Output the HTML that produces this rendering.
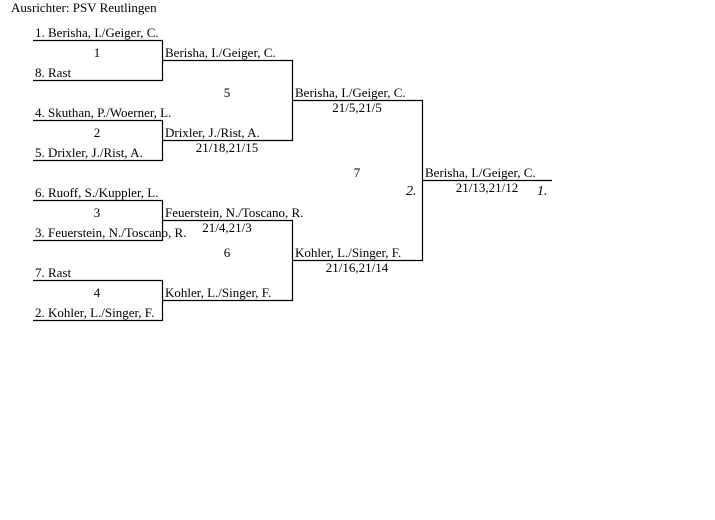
<!DOCTYPE html>
<html><head><meta charset="utf-8"><style>
html,body{margin:0;padding:0;background:#fff;width:715px;height:520px;overflow:hidden}
svg{display:block}
text{font-family:"Liberation Serif",serif;font-size:13px;fill:#000}
.i{font-style:italic;font-size:14px}
</style></head><body>
<svg width="715" height="520" xmlns="http://www.w3.org/2000/svg">
<g stroke="#000" stroke-width="1.2" fill="none">
<polyline points="33,40.5 162.5,40.5 162.5,80.5 33,80.5"/>
<polyline points="33,120.5 162.5,120.5 162.5,160.5 33,160.5"/>
<polyline points="33,200.5 162.5,200.5 162.5,240.5 33,240.5"/>
<polyline points="33,280.5 162.5,280.5 162.5,320.5 33,320.5"/>
<polyline points="162,60.5 292.5,60.5 292.5,140.5 162,140.5"/>
<polyline points="162,220.5 292.5,220.5 292.5,300.5 162,300.5"/>
<polyline points="292,100.5 422.5,100.5 422.5,260.5 292,260.5"/>
<line x1="422" y1="180.5" x2="552" y2="180.5"/>
</g>
<text x="11" y="12">Ausrichter: PSV Reutlingen</text>
<text x="35" y="37">1. Berisha, I./Geiger, C.</text>
<text x="97" y="57" text-anchor="middle">1</text>
<text x="35" y="77">8. Rast</text>
<text x="35" y="117">4. Skuthan, P./Woerner, L.</text>
<text x="97" y="137" text-anchor="middle">2</text>
<text x="35" y="157">5. Drixler, J./Rist, A.</text>
<text x="35" y="197">6. Ruoff, S./Kuppler, L.</text>
<text x="97" y="217" text-anchor="middle">3</text>
<text x="35" y="237">3. Feuerstein, N./Toscano, R.</text>
<text x="35" y="277">7. Rast</text>
<text x="97" y="297" text-anchor="middle">4</text>
<text x="35" y="317">2. Kohler, L./Singer, F.</text>
<text x="165" y="57">Berisha, I./Geiger, C.</text>
<text x="227" y="97" text-anchor="middle">5</text>
<text x="165" y="137">Drixler, J./Rist, A.</text>
<text x="227" y="152" text-anchor="middle">21/18,21/15</text>
<text x="165" y="217">Feuerstein, N./Toscano, R.</text>
<text x="227" y="232" text-anchor="middle">21/4,21/3</text>
<text x="227" y="257" text-anchor="middle">6</text>
<text x="165" y="297">Kohler, L./Singer, F.</text>
<text x="295" y="97">Berisha, I./Geiger, C.</text>
<text x="357" y="112" text-anchor="middle">21/5,21/5</text>
<text x="357" y="177" text-anchor="middle">7</text>
<text x="295" y="257">Kohler, L./Singer, F.</text>
<text x="357" y="272" text-anchor="middle">21/16,21/14</text>
<text x="425" y="177">Berisha, I./Geiger, C.</text>
<text x="487" y="192" text-anchor="middle">21/13,21/12</text>
<text class="i" x="406" y="195">2.</text>
<text class="i" x="537" y="195">1.</text>
</svg>
</body></html>
